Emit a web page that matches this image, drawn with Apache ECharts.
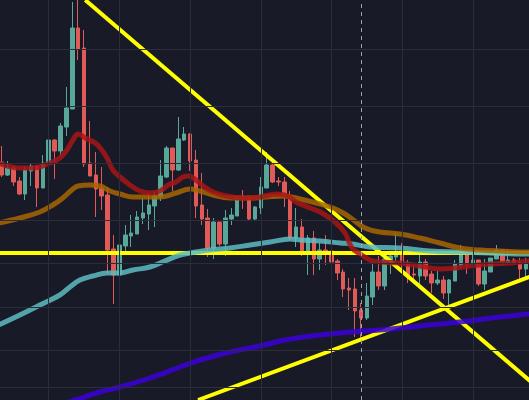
<!DOCTYPE html>
<html>
<head>
<meta charset="utf-8">
<title>Candles</title>
<script src="https://cdn.jsdelivr.net/npm/echarts@6/dist/echarts.min.js"></script>
<style>
  html, body { margin: 0; padding: 0; background: #191a28; overflow: hidden; }
  /* slightly wider than the window so the first and last bars are cut */
  #chart { position: absolute; left: -2px; top: 0; width: 540px; height: 400px; }
</style>
</head>
<body>
<div id="chart"></div>
<script>
// one candle per bar, price in chart units
const opens = [238, 225, 232, 219, 206, 229, 234, 212, 237, 260,
  249, 273, 291, 372, 352, 237, 225, 212, 205, 151,
  125, 154, 164, 166, 182, 186, 194, 203, 223, 252,
  230, 260, 266, 240, 195, 182, 152, 178, 156, 181,
  184, 203, 203, 181, 192, 212, 235, 219, 218, 204,
  162, 173, 146, 162, 141, 150, 149, 139, 128, 112,
  111, 90, 82, 103, 128, 114, 140, 143, 148, 137,
  126, 124, 138, 126, 117, 120, 107, 119, 135, 145,
  136, 140, 116, 128, 141, 150, 137, 140, 137, 131,
  136];
const closes = [225, 232, 218, 206, 230, 234, 212, 237, 260, 249,
  274, 292, 372, 351, 236, 224, 211, 204, 150, 125,
  155, 165, 167, 183, 187, 195, 204, 224, 252, 230,
  261, 266, 239, 194, 181, 152, 178, 156, 182, 185,
  203, 202, 181, 193, 213, 235, 218, 218, 203, 162,
  173, 146, 162, 141, 150, 149, 138, 127, 111, 110,
  89, 82, 104, 128, 114, 141, 144, 148, 136, 124,
  125, 138, 124, 117, 120, 107, 120, 136, 145, 136,
  140, 116, 129, 142, 150, 138, 140, 137, 131, 136,
  187];
const lows = [223, 224, 214, 205, 200, 214, 193, 212, 236, 221,
  244, 264, 291, 340, 233, 224, 183, 190, 126, 96,
  113, 145, 153, 166, 176, 170, 173, 199, 222, 209,
  229, 259, 229, 182, 175, 143, 141, 154, 144, 175,
  184, 191, 179, 179, 186, 212, 217, 214, 193, 160,
  153, 144, 125, 125, 130, 135, 135, 120, 103, 90,
  63, 60, 80, 95, 110, 110, 126, 138, 129, 117,
  118, 116, 120, 107, 115, 101, 95, 119, 132, 126,
  136, 114, 110, 128, 141, 135, 137, 137, 119, 123,
  136];
const highs = [254, 239, 234, 223, 234, 236, 235, 245, 262, 261,
  277, 313, 398, 400, 370, 279, 248, 233, 213, 165,
  157, 175, 185, 189, 202, 207, 208, 240, 254, 252,
  283, 273, 267, 250, 227, 191, 182, 178, 190, 192,
  204, 210, 203, 194, 223, 248, 241, 223, 223, 209,
  192, 181, 165, 169, 157, 165, 159, 141, 131, 122,
  122, 97, 117, 138, 144, 149, 149, 167, 157, 140,
  135, 146, 141, 129, 129, 124, 121, 140, 155, 145,
  149, 140, 141, 142, 155, 150, 151, 142, 142, 142,
  190];

// moving averages as [bar, value]
const maRed = [[-0.5, 237], [3.1, 232], [5.3, 232], [8.2, 237], [9.9, 242], [11.1, 250],
  [12.1, 260], [13.0, 266], [14.2, 262], [15.9, 257], [17.0, 250], [17.9, 242],
  [18.9, 230], [20.1, 223], [21.8, 215], [23.5, 209], [25.2, 207], [26.9, 209],
  [28.3, 215], [29.6, 218], [30.8, 223], [31.8, 224], [33.0, 220], [34.2, 214],
  [35.9, 208], [38.1, 204], [41.0, 202], [43.9, 203], [46.6, 206], [48.6, 204],
  [50.0, 198], [52.4, 192], [54.4, 187], [56.6, 178], [58.3, 167], [59.5, 152],
  [60.9, 146], [62.5, 140], [64.2, 138], [67.6, 137], [71.0, 134], [74.4, 131],
  [77.0, 132], [79.5, 134], [82.9, 136], [86.3, 137], [89.5, 139], [91, 140]];
const maOrange = [[-0.5, 177], [3.1, 182], [6.5, 188], [8.7, 195], [10.4, 202],
  [12.1, 211], [13.0, 214], [15.0, 215], [16.7, 214], [18.4, 209], [20.1, 206],
  [22.3, 203], [24.7, 203], [26.9, 203], [29.6, 207], [32.0, 211], [33.7, 209],
  [35.9, 205], [38.8, 202], [42.2, 202], [44.9, 203], [47.8, 204], [50.7, 201],
  [53.4, 197], [56.3, 192], [58.3, 186], [59.5, 181], [61.7, 172], [64.2, 168],
  [67.6, 166], [71.0, 162], [74.4, 157], [77.8, 152], [81.2, 150], [84.6, 149],
  [89.5, 148], [91, 148]];
const maTeal = [[-0.5, 75], [3.1, 85], [6.5, 95], [9.9, 105], [11.6, 113], [13.3, 120],
  [15.5, 124], [17.9, 127], [20.1, 127], [22.3, 130], [25.2, 133], [27.7, 139],
  [30.3, 145], [32.0, 147], [35.4, 150], [38.8, 152], [42.2, 155], [45.6, 158],
  [49.0, 161], [50.7, 160], [54.1, 159], [57.5, 157], [59.5, 156], [62.5, 153],
  [67.6, 152], [72.7, 149], [77.8, 148], [82.9, 147], [89.5, 146], [91, 146]];
const maPurple = [[9.9, -5], [12.5, 0], [16.7, 8], [20.1, 13], [25.2, 22], [30.3, 33],
  [33.7, 40], [38.8, 48], [43.9, 54], [48.1, 60], [54.1, 65], [59.1, 68],
  [64.2, 70], [71.0, 74], [77.8, 78], [84.6, 83], [89.5, 86], [91, 87]];

// hand-drawn lines, [bar, value] end points
const trendDown = [[14.2, 400], [91, 12.6]];
const trendUp = [[33.35, 0], [91, 126.2]];
const supportLevel = 147;

const gridLevels = [351, 294, 237, 180, 137, 93, 50, 13];
const gridBars = [8, 20, 32, 44, 56, 68, 80];
const markerBar = 61;

const categories = opens.map((v, i) => String(i));
const candles = opens.map((o, i) => [o, closes[i], lows[i], highs[i]]);

function maSeries(name, data, color) {
  return {
    name: name,
    type: "line",
    xAxisIndex: 1,
    data: data,
    smooth: 0.4,
    symbol: "none",
    z: 4,
    silent: true,
    lineStyle: { color: color, width: 5, opacity: 0.85, cap: "round" }
  };
}

function yellowLine(data) {
  return {
    type: "line",
    xAxisIndex: 1,
    data: data,
    symbol: "none",
    z: 3,
    silent: true,
    lineStyle: { color: "#ffff00", width: 4 }
  };
}

let myChart = echarts.init(document.getElementById("chart"));
myChart.setOption({
  backgroundColor: "#191a28",
  animation: false,
  grid: { left: 0.65, top: 0, width: 536, height: 400 },
  xAxis: [
    { type: "category", data: categories, show: false, boundaryGap: true },
    { type: "value", min: -0.5, max: 90.5, show: false }
  ],
  yAxis: { type: "value", min: 0, max: 400, show: false },
  series: [
    {
      name: "grid",
      type: "line",
      xAxisIndex: 1,
      data: [[-5, -50]],
      symbol: "none",
      z: 0,
      lineStyle: { width: 0 },
      markLine: {
        silent: true,
        symbol: ["none", "none"],
        label: { show: false },
        lineStyle: { color: "#2b2d3b", width: 1, type: "solid" },
        data: gridLevels.map(v => ({ yAxis: v }))
          .concat(gridBars.map(b => ({ xAxis: b })))
      }
    },
    {
      name: "marker",
      type: "line",
      xAxisIndex: 1,
      data: [[-5, -50]],
      symbol: "none",
      z: 1,
      lineStyle: { width: 0 },
      markLine: {
        silent: true,
        symbol: ["none", "none"],
        label: { show: false },
        lineStyle: { color: "#9ba0ad", width: 1, type: [4, 4] },
        data: [{ xAxis: markerBar }]
      }
    },
    {
      name: "price",
      type: "candlestick",
      data: candles,
      barWidth: 4,
      z: 2,
      itemStyle: {
        color: "#58a89a",
        color0: "#e05a57",
        borderColor: "#58a89a",
        borderColor0: "#e05a57",
        borderWidth: 1
      }
    },
    yellowLine(trendDown),
    yellowLine(trendUp),
    yellowLine([[-1, supportLevel], [91, supportLevel]]),
    maSeries("MA purple", maPurple, "#3c00da"),
    maSeries("MA teal", maTeal, "#5ebcc2"),
    maSeries("MA orange", maOrange, "#a86600"),
    maSeries("MA red", maRed, "#a81616")
  ]
});
window.addEventListener("resize", () => {
  myChart.resize();
});
</script>
</body>
</html>
